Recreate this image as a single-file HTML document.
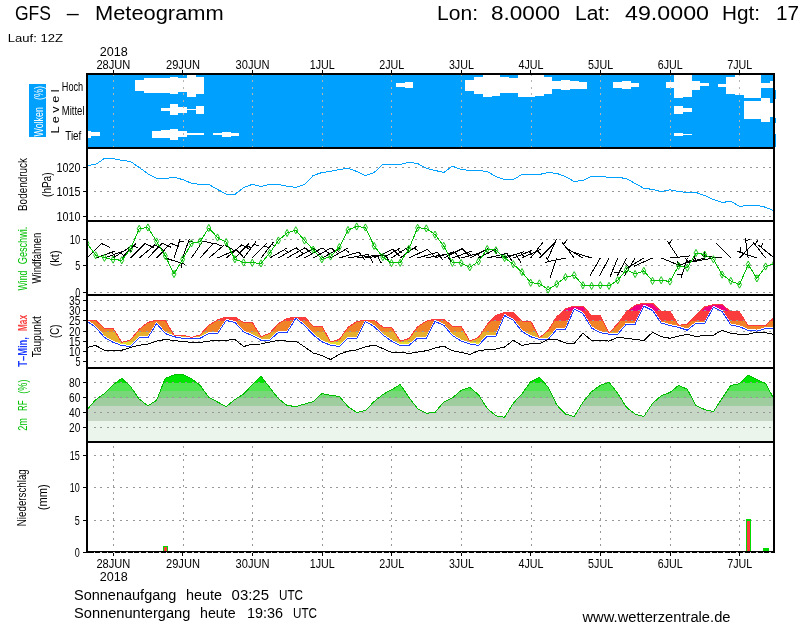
<!DOCTYPE html>
<html lang="de"><head><meta charset="utf-8"><title>GFS - Meteogramm</title>
<style>html,body{margin:0;padding:0;background:#fff}body{width:800px;height:625px;overflow:hidden}svg{display:block}text{font-family:"Liberation Sans", sans-serif;fill:#000}</style>
</head><body>
<svg width="800" height="625" viewBox="0 0 800 625">
<defs><filter id="noLcd" filterUnits="userSpaceOnUse" x="0" y="0" width="800" height="625"><feOffset dx="0" dy="0"/></filter></defs>
<rect x="0" y="0" width="800" height="625" fill="#fff"/>
<g filter="url(#noLcd)">
<text x="15.0" y="19.5" font-size="20" textLength="36.0" lengthAdjust="spacingAndGlyphs">GFS</text>
<text x="66.7" y="19.5" font-size="20" textLength="12.0" lengthAdjust="spacingAndGlyphs">&#8211;</text>
<text x="95.0" y="19.5" font-size="20" textLength="128.7" lengthAdjust="spacingAndGlyphs">Meteogramm</text>
<text x="437.0" y="19.5" font-size="20" textLength="41.0" lengthAdjust="spacingAndGlyphs">Lon:</text>
<text x="491.0" y="19.5" font-size="20" textLength="69.0" lengthAdjust="spacingAndGlyphs">8.0000</text>
<text x="575.0" y="19.5" font-size="20" textLength="35.0" lengthAdjust="spacingAndGlyphs">Lat:</text>
<text x="625.0" y="19.5" font-size="20" textLength="84.0" lengthAdjust="spacingAndGlyphs">49.0000</text>
<text x="722.0" y="19.5" font-size="20" textLength="38.0" lengthAdjust="spacingAndGlyphs">Hgt:</text>
<text x="776.0" y="19.5" font-size="20" textLength="23.0" lengthAdjust="spacingAndGlyphs">17</text>
<text x="7.8" y="41.7" font-size="10" textLength="55.2" lengthAdjust="spacingAndGlyphs">Lauf: 12Z</text>
<g shape-rendering="crispEdges">
<rect x="87" y="74" width="688" height="74" fill="#00a0ff"/>
<rect x="134.85" y="80.10" width="8.70" height="10.60" fill="#fff"/>
<rect x="143.55" y="78.00" width="8.70" height="15.00" fill="#fff"/>
<rect x="152.25" y="78.00" width="8.70" height="15.00" fill="#fff"/>
<rect x="160.95" y="78.00" width="8.70" height="15.00" fill="#fff"/>
<rect x="169.65" y="77.25" width="8.70" height="16.65" fill="#fff"/>
<rect x="178.35" y="77.60" width="8.70" height="14.40" fill="#fff"/>
<rect x="187.05" y="75.00" width="8.70" height="21.75" fill="#fff"/>
<rect x="195.75" y="77.00" width="8.70" height="16.90" fill="#fff"/>
<rect x="395.85" y="83.00" width="8.70" height="3.75" fill="#fff"/>
<rect x="404.55" y="82.00" width="8.70" height="6.00" fill="#fff"/>
<rect x="465.45" y="80.10" width="8.70" height="10.65" fill="#fff"/>
<rect x="474.15" y="77.00" width="8.70" height="16.90" fill="#fff"/>
<rect x="482.85" y="75.00" width="8.70" height="21.75" fill="#fff"/>
<rect x="491.55" y="75.00" width="8.70" height="20.75" fill="#fff"/>
<rect x="500.25" y="77.00" width="8.70" height="16.00" fill="#fff"/>
<rect x="508.95" y="77.60" width="8.70" height="15.40" fill="#fff"/>
<rect x="517.65" y="75.00" width="8.70" height="21.75" fill="#fff"/>
<rect x="526.35" y="75.00" width="8.70" height="21.75" fill="#fff"/>
<rect x="535.05" y="75.00" width="8.70" height="20.75" fill="#fff"/>
<rect x="543.75" y="77.00" width="8.70" height="17.25" fill="#fff"/>
<rect x="552.45" y="81.00" width="8.70" height="7.90" fill="#fff"/>
<rect x="561.15" y="79.75" width="8.70" height="10.35" fill="#fff"/>
<rect x="569.85" y="80.50" width="8.70" height="8.40" fill="#fff"/>
<rect x="578.55" y="82.00" width="8.70" height="6.90" fill="#fff"/>
<rect x="613.35" y="82.00" width="8.70" height="6.00" fill="#fff"/>
<rect x="622.05" y="80.75" width="8.70" height="8.15" fill="#fff"/>
<rect x="630.75" y="83.25" width="8.70" height="3.75" fill="#fff"/>
<rect x="665.55" y="82.25" width="8.70" height="5.75" fill="#fff"/>
<rect x="674.25" y="75.00" width="8.70" height="22.60" fill="#fff"/>
<rect x="682.95" y="75.00" width="8.70" height="21.75" fill="#fff"/>
<rect x="691.65" y="81.00" width="8.70" height="8.50" fill="#fff"/>
<rect x="700.35" y="83.25" width="8.70" height="3.15" fill="#fff"/>
<rect x="717.75" y="83.90" width="8.70" height="2.85" fill="#fff"/>
<rect x="726.45" y="77.00" width="8.70" height="16.90" fill="#fff"/>
<rect x="735.15" y="75.00" width="8.70" height="20.10" fill="#fff"/>
<rect x="743.85" y="75.00" width="8.70" height="23.00" fill="#fff"/>
<rect x="752.55" y="75.00" width="8.70" height="23.20" fill="#fff"/>
<rect x="761.25" y="82.60" width="8.70" height="5.60" fill="#fff"/>
<rect x="769.95" y="80.70" width="3.05" height="7.50" fill="#fff"/>
<rect x="160.95" y="108.25" width="8.70" height="2.25" fill="#fff"/>
<rect x="169.65" y="104.25" width="8.70" height="10.50" fill="#fff"/>
<rect x="178.35" y="107.00" width="8.70" height="5.60" fill="#fff"/>
<rect x="187.05" y="108.60" width="8.70" height="1.15" fill="#fff"/>
<rect x="195.75" y="106.00" width="8.70" height="7.90" fill="#fff"/>
<rect x="674.25" y="106.00" width="8.70" height="7.90" fill="#fff"/>
<rect x="682.95" y="108.25" width="8.70" height="3.75" fill="#fff"/>
<rect x="743.85" y="101.00" width="8.70" height="17.80" fill="#fff"/>
<rect x="752.55" y="100.50" width="8.70" height="18.30" fill="#fff"/>
<rect x="761.25" y="98.20" width="8.70" height="23.70" fill="#fff"/>
<rect x="769.95" y="102.60" width="3.05" height="14.30" fill="#fff"/>
<rect x="88.00" y="130.70" width="3.35" height="7.20" fill="#fff"/>
<rect x="91.35" y="132.20" width="8.70" height="3.70" fill="#fff"/>
<rect x="152.25" y="131.40" width="8.70" height="6.20" fill="#fff"/>
<rect x="160.95" y="130.10" width="8.70" height="7.50" fill="#fff"/>
<rect x="169.65" y="129.25" width="8.70" height="10.50" fill="#fff"/>
<rect x="178.35" y="131.40" width="8.70" height="5.85" fill="#fff"/>
<rect x="187.05" y="133.00" width="8.70" height="1.50" fill="#fff"/>
<rect x="195.75" y="133.00" width="8.70" height="1.50" fill="#fff"/>
<rect x="213.15" y="133.00" width="8.70" height="1.50" fill="#fff"/>
<rect x="221.85" y="132.00" width="8.70" height="4.75" fill="#fff"/>
<rect x="230.55" y="133.00" width="8.70" height="2.50" fill="#fff"/>
<rect x="674.25" y="133.00" width="8.70" height="2.75" fill="#fff"/>
<rect x="682.95" y="133.90" width="8.70" height="1.00" fill="#fff"/>
<rect x="775" y="89.5" width="1" height="9.5" fill="#00a0ff"/>
<rect x="775" y="117.5" width="1" height="5.0" fill="#00a0ff"/>
<rect x="775" y="134.0" width="1" height="13.0" fill="#00a0ff"/>
</g>
<g shape-rendering="crispEdges" fill="none">
<line x1="113.4" y1="73.6" x2="113.4" y2="147" stroke="#b4b4b4" stroke-dasharray="2 4.56" stroke-width="1"/>
<line x1="183.0" y1="73.6" x2="183.0" y2="147" stroke="#b4b4b4" stroke-dasharray="2 4.56" stroke-width="1"/>
<line x1="252.6" y1="73.6" x2="252.6" y2="147" stroke="#b4b4b4" stroke-dasharray="2 4.56" stroke-width="1"/>
<line x1="322.2" y1="73.6" x2="322.2" y2="147" stroke="#b4b4b4" stroke-dasharray="2 4.56" stroke-width="1"/>
<line x1="391.8" y1="73.6" x2="391.8" y2="147" stroke="#b4b4b4" stroke-dasharray="2 4.56" stroke-width="1"/>
<line x1="461.4" y1="73.6" x2="461.4" y2="147" stroke="#b4b4b4" stroke-dasharray="2 4.56" stroke-width="1"/>
<line x1="531.0" y1="73.6" x2="531.0" y2="147" stroke="#b4b4b4" stroke-dasharray="2 4.56" stroke-width="1"/>
<line x1="600.6" y1="73.6" x2="600.6" y2="147" stroke="#b4b4b4" stroke-dasharray="2 4.56" stroke-width="1"/>
<line x1="670.2" y1="73.6" x2="670.2" y2="147" stroke="#b4b4b4" stroke-dasharray="2 4.56" stroke-width="1"/>
<line x1="739.8" y1="73.6" x2="739.8" y2="147" stroke="#b4b4b4" stroke-dasharray="2 4.56" stroke-width="1"/>
</g>
<defs>
<clipPath id="crh"><polygon points="87.00,442.00 87.00,409.75 95.70,399.75 104.40,393.50 113.10,384.75 121.80,378.25 130.50,386.60 139.20,399.10 147.90,405.75 156.60,400.40 165.30,378.25 174.00,375.00 182.70,374.50 191.40,378.50 200.10,385.40 208.80,397.25 217.50,402.00 226.20,406.60 234.90,399.50 243.60,394.10 252.30,384.75 261.00,376.25 269.70,387.50 278.40,398.75 287.10,405.40 295.80,406.60 304.50,404.10 313.20,401.60 321.90,393.50 330.60,395.40 339.30,396.40 348.00,406.60 356.70,412.50 365.40,410.40 374.10,401.60 382.80,394.50 391.50,389.75 400.20,384.50 408.90,397.25 417.60,408.75 426.30,413.25 435.00,412.50 443.70,402.00 452.40,397.90 461.10,390.40 469.80,387.25 478.50,394.75 487.20,408.50 495.90,415.75 504.60,417.25 513.30,403.25 522.00,393.75 530.70,381.60 539.40,377.25 548.10,387.25 556.80,405.00 565.50,414.10 574.20,416.60 582.90,402.25 591.60,391.60 600.30,385.40 609.00,382.25 617.70,393.25 626.40,407.25 635.10,414.10 643.80,416.60 652.50,403.50 661.20,395.75 669.90,392.50 678.60,385.40 687.30,389.30 696.00,405.60 704.70,409.60 713.40,411.60 722.10,398.50 730.80,385.40 739.50,383.75 748.20,375.00 756.90,379.50 765.60,383.50 774.30,399.75 774.00,442.00"/></clipPath>
<clipPath id="ct"><polygon points="87.00,320.25 95.70,320.25 104.40,328.25 113.10,328.25 121.80,342.40 130.50,339.90 139.20,329.25 147.90,322.40 156.60,320.25 165.30,320.25 174.00,335.25 182.70,335.25 191.40,337.40 200.10,334.90 208.80,325.25 217.50,319.90 226.20,317.00 234.90,317.00 243.60,322.40 252.30,322.40 261.00,336.75 269.70,333.25 278.40,323.60 287.10,318.60 295.80,317.00 304.50,317.00 313.20,326.10 321.90,326.10 330.60,342.00 339.30,339.50 348.00,327.40 356.70,321.50 365.40,320.25 374.10,320.25 382.80,327.00 391.50,327.00 400.20,341.10 408.90,338.60 417.60,326.75 426.30,321.10 435.00,319.25 443.70,319.25 452.40,326.10 461.10,326.10 469.80,341.10 478.50,337.40 487.20,324.50 495.90,315.50 504.60,312.40 513.30,312.40 522.00,321.10 530.70,321.10 539.40,337.75 548.10,330.50 556.80,316.75 565.50,308.90 574.20,306.10 582.90,306.10 591.60,315.50 600.30,315.50 609.00,332.75 617.70,324.00 626.40,311.75 635.10,305.25 643.80,303.25 652.50,303.25 661.20,311.10 669.90,311.10 678.60,325.25 687.30,324.25 696.00,315.50 704.70,306.90 713.40,304.50 722.10,304.50 730.80,311.90 739.50,311.90 748.20,325.75 756.90,325.75 765.60,325.75 774.30,316.75 774.30,328.60 765.60,328.60 756.90,331.10 748.20,330.50 739.50,326.75 730.80,324.90 722.10,311.50 713.40,307.40 704.70,323.25 696.00,323.25 687.30,330.25 678.60,327.40 669.90,325.50 661.20,323.00 652.50,310.50 643.80,306.10 635.10,324.25 626.40,324.25 617.70,334.25 609.00,334.25 600.30,332.75 591.60,328.00 582.90,313.60 574.20,309.25 565.50,329.25 556.80,329.25 548.10,339.50 539.40,339.50 530.70,336.75 522.00,331.50 513.30,320.25 504.60,315.50 495.90,336.10 487.20,336.10 478.50,345.50 469.80,344.00 461.10,341.10 452.40,335.50 443.70,325.25 435.00,321.50 426.30,338.25 417.60,338.25 408.90,345.50 400.20,345.50 391.50,341.10 382.80,334.90 374.10,326.50 365.40,321.50 356.70,338.25 348.00,338.25 339.30,346.50 330.60,345.25 321.90,341.75 313.20,334.90 304.50,325.50 295.80,318.25 287.10,332.40 278.40,332.40 269.70,340.25 261.00,340.25 252.30,335.50 243.60,332.00 234.90,322.40 226.20,320.50 217.50,333.60 208.80,333.60 200.10,338.25 191.40,338.25 182.70,338.25 174.00,336.75 165.30,333.60 156.60,323.60 147.90,337.75 139.20,337.75 130.50,346.50 121.80,345.50 113.10,342.40 104.40,337.40 95.70,327.40 87.00,321.10"/></clipPath>
<clipPath id="cw"><rect x="88" y="222" width="685" height="72"/></clipPath>
<clipPath id="call"><rect x="88" y="74" width="685" height="478"/></clipPath>
</defs>
<g shape-rendering="crispEdges">
<g clip-path="url(#crh)">
<rect x="87" y="368.00" width="688" height="14.90" fill="#00e600"/>
<rect x="87" y="382.90" width="688" height="8.10" fill="#50e650"/>
<rect x="87" y="391.00" width="688" height="7.25" fill="#78d778"/>
<rect x="87" y="398.25" width="688" height="7.50" fill="#a0cda0"/>
<rect x="87" y="405.75" width="688" height="15.00" fill="#c6d7c6"/>
<rect x="87" y="420.75" width="688" height="21.25" fill="#ebf5eb"/>
</g>
<g clip-path="url(#ct)">
<rect x="87" y="295.00" width="688" height="15.80" fill="#f00082"/>
<rect x="87" y="310.80" width="688" height="10.20" fill="#fa3c3c"/>
<rect x="87" y="321.00" width="688" height="10.80" fill="#f08228"/>
<rect x="87" y="331.80" width="688" height="10.20" fill="#e6af2d"/>
<rect x="87" y="342.00" width="688" height="10.00" fill="#e6dc32"/>
<rect x="87" y="352.00" width="688" height="16.00" fill="#a0e632"/>
</g>
</g>
<g shape-rendering="crispEdges" fill="none" stroke="#989898" stroke-width="1" stroke-dasharray="2 4.56">
<line x1="93.5" y1="167.5" x2="773" y2="167.5"/>
<line x1="93.5" y1="191.5" x2="773" y2="191.5"/>
<line x1="93.5" y1="216.5" x2="773" y2="216.5"/>
<line x1="93.5" y1="239.5" x2="773" y2="239.5"/>
<line x1="93.5" y1="265.5" x2="773" y2="265.5"/>
<line x1="93.5" y1="292.5" x2="773" y2="292.5"/>
<line x1="93.5" y1="300.5" x2="773" y2="300.5"/>
<line x1="93.5" y1="310.5" x2="773" y2="310.5"/>
<line x1="93.5" y1="320.5" x2="773" y2="320.5"/>
<line x1="93.5" y1="331.5" x2="773" y2="331.5"/>
<line x1="93.5" y1="341.5" x2="773" y2="341.5"/>
<line x1="93.5" y1="351.5" x2="773" y2="351.5"/>
<line x1="93.5" y1="361.5" x2="773" y2="361.5"/>
<line x1="93.5" y1="382.5" x2="773" y2="382.5"/>
<line x1="93.5" y1="397.5" x2="773" y2="397.5"/>
<line x1="93.5" y1="412.5" x2="773" y2="412.5"/>
<line x1="93.5" y1="427.5" x2="773" y2="427.5"/>
<line x1="93.5" y1="455.5" x2="773" y2="455.5"/>
<line x1="93.5" y1="487.5" x2="773" y2="487.5"/>
<line x1="93.5" y1="520.5" x2="773" y2="520.5"/>
</g>
<g shape-rendering="crispEdges" fill="none" stroke="#989898" stroke-width="1" stroke-dasharray="2 4.56">
<line x1="113.4" y1="446" x2="113.4" y2="551"/>
<line x1="183.0" y1="446" x2="183.0" y2="551"/>
<line x1="252.6" y1="446" x2="252.6" y2="551"/>
<line x1="322.2" y1="446" x2="322.2" y2="551"/>
<line x1="391.8" y1="446" x2="391.8" y2="551"/>
<line x1="461.4" y1="446" x2="461.4" y2="551"/>
<line x1="531.0" y1="446" x2="531.0" y2="551"/>
<line x1="600.6" y1="446" x2="600.6" y2="551"/>
<line x1="670.2" y1="446" x2="670.2" y2="551"/>
<line x1="739.8" y1="446" x2="739.8" y2="551"/>
</g>
<g shape-rendering="crispEdges" fill="none" stroke-width="1" stroke-linejoin="round" clip-path="url(#call)">
<polyline points="87.00,165.50 95.70,164.40 104.40,158.50 113.10,158.50 121.80,160.40 130.50,161.50 139.20,167.50 147.90,173.75 156.60,178.50 165.30,178.50 174.00,177.25 182.70,179.60 191.40,183.25 200.10,184.40 208.80,184.40 217.50,189.40 226.20,194.10 234.90,194.40 243.60,187.50 252.30,184.40 261.00,186.40 269.70,184.40 278.40,184.40 287.10,186.25 295.80,187.40 304.50,184.50 313.20,175.50 321.90,172.50 330.60,171.40 339.30,169.50 348.00,168.40 356.70,171.40 365.40,175.50 374.10,172.50 382.80,164.50 391.50,164.50 400.20,164.50 408.90,162.25 417.60,163.50 426.30,168.25 435.00,170.40 443.70,172.50 452.40,166.25 461.10,169.40 469.80,170.50 478.50,170.50 487.20,171.50 495.90,176.50 504.60,179.50 513.30,179.50 522.00,174.50 530.70,174.50 539.40,174.50 548.10,172.40 556.80,173.40 565.50,176.60 574.20,181.50 582.90,180.40 591.60,176.40 600.30,176.40 609.00,177.40 617.70,177.40 626.40,178.50 635.10,183.50 643.80,188.25 652.50,189.40 661.20,191.60 669.90,189.80 678.60,191.40 687.30,192.50 696.00,192.50 704.70,195.50 713.40,199.50 722.10,202.50 730.80,201.25 739.50,206.40 748.20,205.40 756.90,205.40 765.60,207.25 774.30,211.00" stroke="#00a0ff" stroke-width="1"/>
<polyline points="87.00,409.75 95.70,399.75 104.40,393.50 113.10,384.75 121.80,378.25 130.50,386.60 139.20,399.10 147.90,405.75 156.60,400.40 165.30,378.25 174.00,375.00 182.70,374.50 191.40,378.50 200.10,385.40 208.80,397.25 217.50,402.00 226.20,406.60 234.90,399.50 243.60,394.10 252.30,384.75 261.00,376.25 269.70,387.50 278.40,398.75 287.10,405.40 295.80,406.60 304.50,404.10 313.20,401.60 321.90,393.50 330.60,395.40 339.30,396.40 348.00,406.60 356.70,412.50 365.40,410.40 374.10,401.60 382.80,394.50 391.50,389.75 400.20,384.50 408.90,397.25 417.60,408.75 426.30,413.25 435.00,412.50 443.70,402.00 452.40,397.90 461.10,390.40 469.80,387.25 478.50,394.75 487.20,408.50 495.90,415.75 504.60,417.25 513.30,403.25 522.00,393.75 530.70,381.60 539.40,377.25 548.10,387.25 556.80,405.00 565.50,414.10 574.20,416.60 582.90,402.25 591.60,391.60 600.30,385.40 609.00,382.25 617.70,393.25 626.40,407.25 635.10,414.10 643.80,416.60 652.50,403.50 661.20,395.75 669.90,392.50 678.60,385.40 687.30,389.30 696.00,405.60 704.70,409.60 713.40,411.60 722.10,398.50 730.80,385.40 739.50,383.75 748.20,375.00 756.90,379.50 765.60,383.50 774.30,399.75" stroke="#00be00" stroke-width="1"/>
<polyline points="87.00,320.10 95.70,326.40 104.40,336.40 113.10,341.40 121.80,344.50 130.50,345.50 139.20,336.75 147.90,336.75 156.60,322.60 165.30,332.60 174.00,335.75 182.70,337.25 191.40,337.25 200.10,337.25 208.80,332.60 217.50,332.60 226.20,319.50 234.90,321.40 243.60,331.00 252.30,334.50 261.00,339.25 269.70,339.25 278.40,331.40 287.10,331.40 295.80,317.25 304.50,324.50 313.20,333.90 321.90,340.75 330.60,344.25 339.30,345.50 348.00,337.25 356.70,337.25 365.40,320.50 374.10,325.50 382.80,333.90 391.50,340.10 400.20,344.50 408.90,344.50 417.60,337.25 426.30,337.25 435.00,320.50 443.70,324.25 452.40,334.50 461.10,340.10 469.80,343.00 478.50,344.50 487.20,335.10 495.90,335.10 504.60,314.50 513.30,319.25 522.00,330.50 530.70,335.75 539.40,338.50 548.10,338.50 556.80,328.25 565.50,328.25 574.20,308.25 582.90,312.60 591.60,327.00 600.30,331.75 609.00,333.25 617.70,333.25 626.40,323.25 635.10,323.25 643.80,305.10 652.50,309.50 661.20,322.00 669.90,324.50 678.60,326.40 687.30,329.25 696.00,322.25 704.70,322.25 713.40,306.40 722.10,310.50 730.80,323.90 739.50,325.75 748.20,329.50 756.90,330.10 765.60,327.60 774.30,327.60" stroke="#fff" stroke-width="1"/>
<polyline points="87.00,320.25 95.70,320.25 104.40,328.25 113.10,328.25 121.80,342.40 130.50,339.90 139.20,329.25 147.90,322.40 156.60,320.25 165.30,320.25 174.00,335.25 182.70,335.25 191.40,337.40 200.10,334.90 208.80,325.25 217.50,319.90 226.20,317.00 234.90,317.00 243.60,322.40 252.30,322.40 261.00,336.75 269.70,333.25 278.40,323.60 287.10,318.60 295.80,317.00 304.50,317.00 313.20,326.10 321.90,326.10 330.60,342.00 339.30,339.50 348.00,327.40 356.70,321.50 365.40,320.25 374.10,320.25 382.80,327.00 391.50,327.00 400.20,341.10 408.90,338.60 417.60,326.75 426.30,321.10 435.00,319.25 443.70,319.25 452.40,326.10 461.10,326.10 469.80,341.10 478.50,337.40 487.20,324.50 495.90,315.50 504.60,312.40 513.30,312.40 522.00,321.10 530.70,321.10 539.40,337.75 548.10,330.50 556.80,316.75 565.50,308.90 574.20,306.10 582.90,306.10 591.60,315.50 600.30,315.50 609.00,332.75 617.70,324.00 626.40,311.75 635.10,305.25 643.80,303.25 652.50,303.25 661.20,311.10 669.90,311.10 678.60,325.25 687.30,324.25 696.00,315.50 704.70,306.90 713.40,304.50 722.10,304.50 730.80,311.90 739.50,311.90 748.20,325.75 756.90,325.75 765.60,325.75 774.30,316.75" stroke="#fa3c3c" stroke-width="1"/>
<polyline points="87.00,321.10 95.70,327.40 104.40,337.40 113.10,342.40 121.80,345.50 130.50,346.50 139.20,337.75 147.90,337.75 156.60,323.60 165.30,333.60 174.00,336.75 182.70,338.25 191.40,338.25 200.10,338.25 208.80,333.60 217.50,333.60 226.20,320.50 234.90,322.40 243.60,332.00 252.30,335.50 261.00,340.25 269.70,340.25 278.40,332.40 287.10,332.40 295.80,318.25 304.50,325.50 313.20,334.90 321.90,341.75 330.60,345.25 339.30,346.50 348.00,338.25 356.70,338.25 365.40,321.50 374.10,326.50 382.80,334.90 391.50,341.10 400.20,345.50 408.90,345.50 417.60,338.25 426.30,338.25 435.00,321.50 443.70,325.25 452.40,335.50 461.10,341.10 469.80,344.00 478.50,345.50 487.20,336.10 495.90,336.10 504.60,315.50 513.30,320.25 522.00,331.50 530.70,336.75 539.40,339.50 548.10,339.50 556.80,329.25 565.50,329.25 574.20,309.25 582.90,313.60 591.60,328.00 600.30,332.75 609.00,334.25 617.70,334.25 626.40,324.25 635.10,324.25 643.80,306.10 652.50,310.50 661.20,323.00 669.90,325.50 678.60,327.40 687.30,330.25 696.00,323.25 704.70,323.25 713.40,307.40 722.10,311.50 730.80,324.90 739.50,326.75 748.20,330.50 756.90,331.10 765.60,328.60 774.30,328.60" stroke="#1e3cff" stroke-width="1"/>
<polyline points="87.00,347.40 95.70,345.50 104.40,350.25 113.10,350.50 121.80,350.25 130.50,347.40 139.20,345.25 147.90,344.00 156.60,341.10 165.30,339.50 174.00,340.50 182.70,341.50 191.40,342.40 200.10,342.40 208.80,341.10 217.50,340.50 226.20,340.25 234.90,339.50 243.60,346.50 252.30,344.25 261.00,344.00 269.70,342.00 278.40,340.25 287.10,341.10 295.80,341.10 304.50,346.75 313.20,353.00 321.90,355.50 330.60,359.50 339.30,354.25 348.00,351.10 356.70,349.90 365.40,347.00 374.10,344.90 382.80,348.60 391.50,352.40 400.20,352.00 408.90,353.60 417.60,352.00 426.30,350.75 435.00,348.00 443.70,346.10 452.40,350.75 461.10,352.40 469.80,354.50 478.50,350.75 487.20,349.50 495.90,349.00 504.60,347.00 513.30,340.25 522.00,345.50 530.70,343.60 539.40,343.60 548.10,339.50 556.80,339.50 565.50,343.00 574.20,343.40 582.90,333.25 591.60,340.50 600.30,340.25 609.00,341.10 617.70,337.40 626.40,338.25 635.10,339.50 643.80,340.50 652.50,332.40 661.20,336.75 669.90,338.25 678.60,336.10 687.30,334.25 696.00,336.50 704.70,335.50 713.40,335.25 722.10,330.25 730.80,333.25 739.50,334.25 748.20,334.25 756.90,332.00 765.60,332.75 774.30,334.50" stroke="#000" stroke-width="1"/>
</g>
<g shape-rendering="crispEdges" fill="none" stroke="#000" stroke-width="1" clip-path="url(#cw)">
<path d="M87.0 258.0L101.5 243.5M101.5 243.5L110.1 247.5"/>
<path d="M95.7 258.0L115.0 251.0M111.7 252.2L114.9 256.0"/>
<path d="M104.4 258.0L123.7 251.0M120.4 252.2L123.6 256.0"/>
<path d="M113.1 258.0L130.3 246.8M127.4 248.7L131.4 251.8"/>
<path d="M121.8 258.0L136.0 243.3M133.6 245.8L138.2 247.8"/>
<path d="M130.5 258.0L145.0 243.5M145.0 243.5L153.6 247.5"/>
<path d="M139.2 258.0L154.9 244.8M154.9 244.8L163.1 249.6"/>
<path d="M147.9 258.0L162.1 243.3M162.1 243.3L170.8 247.1"/>
<path d="M156.6 258.0L170.8 243.3M170.8 243.3L179.5 247.1"/>
<path d="M165.3 258.0L184.8 264.3M181.5 263.3L181.6 268.3"/>
<path d="M174.0 258.0L180.3 238.5M179.3 241.8L184.3 241.7"/>
<path d="M182.7 258.0L189.4 238.6M188.2 241.9L193.2 241.8"/>
<path d="M191.4 258.0L202.9 241.0M202.9 241.0L212.1 243.3"/>
<path d="M200.1 258.0L213.8 242.8M213.8 242.8L222.6 246.3"/>
<path d="M208.8 258.0L224.5 244.8M224.5 244.8L232.7 249.6"/>
<path d="M217.5 258.0L236.2 249.7M236.2 249.7L242.8 256.5"/>
<path d="M226.2 258.0L241.9 244.8M241.9 244.8L250.1 249.6"/>
<path d="M234.9 258.0L249.1 243.3M246.7 245.8L251.3 247.8"/>
<path d="M243.6 258.0L255.9 241.6M253.8 244.4L258.6 245.9"/>
<path d="M252.3 258.0L266.5 243.3M264.1 245.8L268.7 247.8"/>
<path d="M261.0 258.0L273.6 241.8M271.5 244.6L276.2 246.1"/>
<path d="M269.7 258.0L287.5 247.8M284.4 249.5L288.3 252.7"/>
<path d="M278.4 258.0L296.2 247.8M296.2 247.8L303.4 253.9"/>
<path d="M287.1 258.0L304.9 247.8M304.9 247.8L312.1 253.9"/>
<path d="M295.8 258.0L313.9 248.4M313.9 248.4L321.0 254.7"/>
<path d="M304.5 258.0L322.3 247.8M322.3 247.8L329.5 253.9"/>
<path d="M313.2 258.0L331.0 247.8M331.0 247.8L338.2 253.9"/>
<path d="M321.9 258.0L340.0 248.4M336.9 250.0L340.6 253.4"/>
<path d="M330.6 258.0L348.4 247.8M345.3 249.5L349.2 252.7"/>
<path d="M339.3 258.0L358.9 252.0M358.9 252.0L364.6 259.6"/>
<path d="M348.0 258.0L368.2 254.4M368.2 254.4L372.9 262.7"/>
<path d="M356.7 258.0L377.0 255.1M377.0 255.1L381.5 263.5"/>
<path d="M365.4 258.0L385.7 255.1M385.7 255.1L390.2 263.5"/>
<path d="M374.1 258.0L392.7 249.3M392.7 249.3L399.4 256.1"/>
<path d="M382.8 258.0L400.6 247.8M397.5 249.5L401.4 252.7"/>
<path d="M391.5 258.0L408.7 246.8M405.8 248.7L409.8 251.8"/>
<path d="M400.2 258.0L416.8 246.0M414.0 248.0L418.1 250.8"/>
<path d="M408.9 258.0L427.5 249.3M427.5 249.3L434.2 256.1"/>
<path d="M417.6 258.0L437.3 252.3M437.3 252.3L442.9 260.0"/>
<path d="M426.3 258.0L446.4 254.1M446.4 254.1L451.3 262.2"/>
<path d="M435.0 258.0L454.5 251.7M454.5 251.7L460.3 259.2"/>
<path d="M443.7 258.0L462.0 248.7M462.0 248.7L468.9 255.2"/>
<path d="M452.4 258.0L471.7 251.0M468.4 252.2L471.6 256.0"/>
<path d="M461.1 258.0L480.9 252.7M477.5 253.6L480.4 257.7"/>
<path d="M469.8 258.0L488.1 248.7M484.9 250.3L488.6 253.7"/>
<path d="M478.5 258.0L496.8 248.7M493.6 250.3L497.3 253.7"/>
<path d="M487.2 258.0L507.2 253.4M507.2 253.4L512.3 261.4"/>
<path d="M495.9 258.0L516.1 254.4M516.1 254.4L520.8 262.7"/>
<path d="M504.6 258.0L524.1 251.7M520.8 252.7L523.8 256.7"/>
<path d="M513.3 258.0L532.3 250.3M529.1 251.6L532.4 255.3"/>
<path d="M522.0 258.0L540.6 249.3M537.4 250.8L540.9 254.4"/>
<path d="M530.7 258.0L543.3 241.8"/>
<path d="M539.4 258.0L553.9 243.5"/>
<path d="M548.1 258.0L556.4 239.3"/>
<path d="M556.8 258.0L550.1 277.4"/>
<path d="M565.5 258.0L545.4 262.3M548.9 261.5L546.2 257.3"/>
<path d="M574.2 258.0L561.6 241.8M563.7 244.6L566.4 240.4"/>
<path d="M582.9 258.0L565.3 247.4"/>
<path d="M591.6 258.0L572.1 251.7"/>
<path d="M600.3 258.0L590.0 275.8"/>
<path d="M609.0 258.0L599.4 276.1"/>
<path d="M617.7 258.0L610.0 277.0"/>
<path d="M626.4 258.0L617.1 276.3M618.7 273.1L613.7 272.5"/>
<path d="M635.1 258.0L624.5 275.6M626.3 272.6L621.4 271.6"/>
<path d="M643.8 258.0L626.2 268.6M629.2 266.8L625.3 263.6"/>
<path d="M652.5 258.0L633.8 266.3"/>
<path d="M661.2 258.0L680.2 265.7"/>
<path d="M669.9 258.0L690.3 255.9"/>
<path d="M678.6 258.0L667.1 241.0M669.1 243.9L672.0 239.9"/>
<path d="M687.3 258.0L681.3 277.6M682.3 274.3L677.3 274.5"/>
<path d="M696.0 258.0L677.4 266.7M680.6 265.2L677.1 261.6"/>
<path d="M704.7 258.0L684.9 263.3M688.3 262.4L685.4 258.3"/>
<path d="M713.4 258.0L693.2 261.6M696.7 261.0L694.2 256.6"/>
<path d="M722.1 258.0L701.7 255.9M705.2 256.2L704.0 251.4"/>
<path d="M730.8 258.0L716.3 243.5"/>
<path d="M739.5 258.0L753.7 243.3"/>
<path d="M748.2 258.0L745.3 237.7M745.8 241.2L750.2 238.8"/>
<path d="M756.9 258.0L737.5 251.3M740.8 252.5L740.7 247.5"/>
<path d="M765.6 258.0L753.0 241.8M755.1 244.6L757.8 240.4"/>
<path d="M774.3 258.0L758.4 245.1M761.1 247.3L762.7 242.6"/>
</g>
<g shape-rendering="crispEdges" fill="none" stroke="#00be00" stroke-width="1" clip-path="url(#cw)">
<polyline points="87.00,243.40 95.70,255.25 104.40,257.75 113.10,259.60 121.80,260.25 130.50,249.00 139.20,228.75 147.90,227.50 156.60,241.50 165.30,255.90 174.00,274.00 182.70,259.30 191.40,243.40 200.10,241.50 208.80,228.00 217.50,237.50 226.20,242.10 234.90,259.25 243.60,262.50 252.30,262.75 261.00,263.40 269.70,253.00 278.40,240.50 287.10,233.00 295.80,230.25 304.50,240.50 313.20,249.60 321.90,259.25 330.60,256.50 339.30,247.10 348.00,230.00 356.70,226.50 365.40,227.50 374.10,245.90 382.80,257.10 391.50,263.00 400.20,262.75 408.90,248.75 417.60,227.75 426.30,228.40 435.00,234.60 443.70,245.90 452.40,262.75 461.10,263.00 469.80,267.30 478.50,261.50 487.20,249.00 495.90,250.25 504.60,258.00 513.30,264.25 522.00,272.10 530.70,282.75 539.40,283.40 548.10,289.60 556.80,284.00 565.50,277.10 574.20,275.25 582.90,285.25 591.60,285.90 600.30,285.25 609.00,285.90 617.70,280.25 626.40,269.60 635.10,274.00 643.80,270.90 652.50,280.90 661.20,280.25 669.90,281.50 678.60,265.90 687.30,267.75 696.00,253.00 704.70,254.60 713.40,259.25 722.10,274.60 730.80,280.90 739.50,284.60 748.20,264.60 756.90,278.40 765.60,266.50 774.30,263.40" stroke-width="1"/>
<path d="M87.0 239.8L89.0 243.4L87.0 247.0L85.0 243.4ZM95.7 251.7L97.7 255.2L95.7 258.9L93.7 255.2ZM104.4 254.2L106.4 257.8L104.4 261.4L102.4 257.8ZM113.1 256.0L115.1 259.6L113.1 263.2L111.1 259.6ZM121.8 256.6L123.8 260.2L121.8 263.9L119.8 260.2ZM130.5 245.4L132.5 249.0L130.5 252.6L128.5 249.0ZM139.2 225.2L141.2 228.8L139.2 232.3L137.2 228.8ZM147.9 223.9L149.9 227.5L147.9 231.1L145.9 227.5ZM156.6 237.9L158.6 241.5L156.6 245.1L154.6 241.5ZM165.3 252.3L167.3 255.9L165.3 259.5L163.3 255.9ZM174.0 270.4L176.0 274.0L174.0 277.6L172.0 274.0ZM182.7 255.7L184.7 259.3L182.7 262.9L180.7 259.3ZM191.4 239.8L193.4 243.4L191.4 247.0L189.4 243.4ZM200.1 237.9L202.1 241.5L200.1 245.1L198.1 241.5ZM208.8 224.4L210.8 228.0L208.8 231.6L206.8 228.0ZM217.5 233.9L219.5 237.5L217.5 241.1L215.5 237.5ZM226.2 238.5L228.2 242.1L226.2 245.7L224.2 242.1ZM234.9 255.7L236.9 259.2L234.9 262.9L232.9 259.2ZM243.6 258.9L245.6 262.5L243.6 266.1L241.6 262.5ZM252.3 259.1L254.3 262.8L252.3 266.4L250.3 262.8ZM261.0 259.8L263.0 263.4L261.0 267.0L259.0 263.4ZM269.7 249.4L271.7 253.0L269.7 256.6L267.7 253.0ZM278.4 236.9L280.4 240.5L278.4 244.1L276.4 240.5ZM287.1 229.4L289.1 233.0L287.1 236.6L285.1 233.0ZM295.8 226.7L297.8 230.2L295.8 233.8L293.8 230.2ZM304.5 236.9L306.5 240.5L304.5 244.1L302.5 240.5ZM313.2 246.0L315.2 249.6L313.2 253.2L311.2 249.6ZM321.9 255.7L323.9 259.2L321.9 262.9L319.9 259.2ZM330.6 252.9L332.6 256.5L330.6 260.1L328.6 256.5ZM339.3 243.5L341.3 247.1L339.3 250.7L337.3 247.1ZM348.0 226.4L350.0 230.0L348.0 233.6L346.0 230.0ZM356.7 222.9L358.7 226.5L356.7 230.1L354.7 226.5ZM365.4 223.9L367.4 227.5L365.4 231.1L363.4 227.5ZM374.1 242.3L376.1 245.9L374.1 249.5L372.1 245.9ZM382.8 253.5L384.8 257.1L382.8 260.7L380.8 257.1ZM391.5 259.4L393.5 263.0L391.5 266.6L389.5 263.0ZM400.2 259.1L402.2 262.8L400.2 266.4L398.2 262.8ZM408.9 245.2L410.9 248.8L408.9 252.3L406.9 248.8ZM417.6 224.2L419.6 227.8L417.6 231.3L415.6 227.8ZM426.3 224.8L428.3 228.4L426.3 232.0L424.3 228.4ZM435.0 231.0L437.0 234.6L435.0 238.2L433.0 234.6ZM443.7 242.3L445.7 245.9L443.7 249.5L441.7 245.9ZM452.4 259.1L454.4 262.8L452.4 266.4L450.4 262.8ZM461.1 259.4L463.1 263.0L461.1 266.6L459.1 263.0ZM469.8 263.7L471.8 267.3L469.8 270.9L467.8 267.3ZM478.5 257.9L480.5 261.5L478.5 265.1L476.5 261.5ZM487.2 245.4L489.2 249.0L487.2 252.6L485.2 249.0ZM495.9 246.7L497.9 250.2L495.9 253.8L493.9 250.2ZM504.6 254.4L506.6 258.0L504.6 261.6L502.6 258.0ZM513.3 260.6L515.3 264.2L513.3 267.9L511.3 264.2ZM522.0 268.5L524.0 272.1L522.0 275.7L520.0 272.1ZM530.7 279.1L532.7 282.8L530.7 286.4L528.7 282.8ZM539.4 279.8L541.4 283.4L539.4 287.0L537.4 283.4ZM548.1 286.0L550.1 289.6L548.1 293.2L546.1 289.6ZM556.8 280.4L558.8 284.0L556.8 287.6L554.8 284.0ZM565.5 273.5L567.5 277.1L565.5 280.7L563.5 277.1ZM574.2 271.6L576.2 275.2L574.2 278.9L572.2 275.2ZM582.9 281.6L584.9 285.2L582.9 288.9L580.9 285.2ZM591.6 282.3L593.6 285.9L591.6 289.5L589.6 285.9ZM600.3 281.6L602.3 285.2L600.3 288.9L598.3 285.2ZM609.0 282.3L611.0 285.9L609.0 289.5L607.0 285.9ZM617.7 276.6L619.7 280.2L617.7 283.9L615.7 280.2ZM626.4 266.0L628.4 269.6L626.4 273.2L624.4 269.6ZM635.1 270.4L637.1 274.0L635.1 277.6L633.1 274.0ZM643.8 267.3L645.8 270.9L643.8 274.5L641.8 270.9ZM652.5 277.3L654.5 280.9L652.5 284.5L650.5 280.9ZM661.2 276.6L663.2 280.2L661.2 283.9L659.2 280.2ZM669.9 277.9L671.9 281.5L669.9 285.1L667.9 281.5ZM678.6 262.3L680.6 265.9L678.6 269.5L676.6 265.9ZM687.3 264.1L689.3 267.8L687.3 271.4L685.3 267.8ZM696.0 249.4L698.0 253.0L696.0 256.6L694.0 253.0ZM704.7 251.0L706.7 254.6L704.7 258.2L702.7 254.6ZM713.4 255.7L715.4 259.2L713.4 262.9L711.4 259.2ZM722.1 271.0L724.1 274.6L722.1 278.2L720.1 274.6ZM730.8 277.3L732.8 280.9L730.8 284.5L728.8 280.9ZM739.5 281.0L741.5 284.6L739.5 288.2L737.5 284.6ZM748.2 261.0L750.2 264.6L748.2 268.2L746.2 264.6ZM756.9 274.8L758.9 278.4L756.9 282.0L754.9 278.4ZM765.6 262.9L767.6 266.5L765.6 270.1L763.6 266.5ZM774.3 259.8L776.3 263.4L774.3 267.0L772.3 263.4Z" shape-rendering="geometricPrecision" stroke-width="0.9"/>
</g>
<g shape-rendering="crispEdges">
<rect x="163" y="546" width="5" height="6" fill="#00dc00"/><rect x="164" y="547" width="3" height="6" fill="#fa3c3c"/>
<rect x="746" y="519" width="5" height="33" fill="#00dc00"/><rect x="747" y="520.5" width="3" height="32" fill="#fa3c3c"/>
<rect x="763" y="548" width="6" height="4" fill="#00dc00"/>
</g>
<g shape-rendering="crispEdges" fill="#000">
<rect x="86" y="73" width="2" height="480"/>
<rect x="773" y="73" width="2" height="480"/>
<rect x="86" y="73" width="689" height="2"/>
<rect x="86" y="147" width="689" height="2"/>
<rect x="86" y="220" width="689" height="2"/>
<rect x="86" y="294" width="689" height="2"/>
<rect x="86" y="367" width="689" height="2"/>
<rect x="86" y="441" width="689" height="2"/>
<rect x="86" y="551" width="689" height="2"/>
<rect x="83" y="167" width="3" height="1"/>
<rect x="83" y="191" width="3" height="1"/>
<rect x="83" y="216" width="3" height="1"/>
<rect x="83" y="239" width="3" height="1"/>
<rect x="83" y="265" width="3" height="1"/>
<rect x="83" y="292" width="3" height="1"/>
<rect x="83" y="300" width="3" height="1"/>
<rect x="83" y="310" width="3" height="1"/>
<rect x="83" y="320" width="3" height="1"/>
<rect x="83" y="331" width="3" height="1"/>
<rect x="83" y="341" width="3" height="1"/>
<rect x="83" y="351" width="3" height="1"/>
<rect x="83" y="361" width="3" height="1"/>
<rect x="83" y="382" width="3" height="1"/>
<rect x="83" y="397" width="3" height="1"/>
<rect x="83" y="412" width="3" height="1"/>
<rect x="83" y="427" width="3" height="1"/>
<rect x="83" y="455" width="3" height="1"/>
<rect x="83" y="487" width="3" height="1"/>
<rect x="83" y="520" width="3" height="1"/>
<rect x="83" y="552" width="3" height="1"/>
<rect x="113" y="70" width="1" height="3"/>
<rect x="113" y="553" width="1" height="3"/>
<rect x="182" y="70" width="1" height="3"/>
<rect x="182" y="553" width="1" height="3"/>
<rect x="252" y="70" width="1" height="3"/>
<rect x="252" y="553" width="1" height="3"/>
<rect x="322" y="70" width="1" height="3"/>
<rect x="322" y="553" width="1" height="3"/>
<rect x="391" y="70" width="1" height="3"/>
<rect x="391" y="553" width="1" height="3"/>
<rect x="461" y="70" width="1" height="3"/>
<rect x="461" y="553" width="1" height="3"/>
<rect x="530" y="70" width="1" height="3"/>
<rect x="530" y="553" width="1" height="3"/>
<rect x="600" y="70" width="1" height="3"/>
<rect x="600" y="553" width="1" height="3"/>
<rect x="670" y="70" width="1" height="3"/>
<rect x="670" y="553" width="1" height="3"/>
<rect x="739" y="70" width="1" height="3"/>
<rect x="739" y="553" width="1" height="3"/>
</g>
<line x1="93.5" y1="552.5" x2="773" y2="552.5" stroke="#d0d0d0" stroke-width="1" stroke-dasharray="1.6 4.96" shape-rendering="crispEdges"/>
<text x="96.4" y="68.8" font-size="13" textLength="34.0" lengthAdjust="spacingAndGlyphs">28JUN</text>
<text x="96.4" y="567.6" font-size="13" textLength="34.0" lengthAdjust="spacingAndGlyphs">28JUN</text>
<text x="166.0" y="68.8" font-size="13" textLength="34.0" lengthAdjust="spacingAndGlyphs">29JUN</text>
<text x="166.0" y="567.6" font-size="13" textLength="34.0" lengthAdjust="spacingAndGlyphs">29JUN</text>
<text x="235.6" y="68.8" font-size="13" textLength="34.0" lengthAdjust="spacingAndGlyphs">30JUN</text>
<text x="235.6" y="567.6" font-size="13" textLength="34.0" lengthAdjust="spacingAndGlyphs">30JUN</text>
<text x="309.7" y="68.8" font-size="13" textLength="25.0" lengthAdjust="spacingAndGlyphs">1JUL</text>
<text x="309.7" y="567.6" font-size="13" textLength="25.0" lengthAdjust="spacingAndGlyphs">1JUL</text>
<text x="379.3" y="68.8" font-size="13" textLength="25.0" lengthAdjust="spacingAndGlyphs">2JUL</text>
<text x="379.3" y="567.6" font-size="13" textLength="25.0" lengthAdjust="spacingAndGlyphs">2JUL</text>
<text x="448.9" y="68.8" font-size="13" textLength="25.0" lengthAdjust="spacingAndGlyphs">3JUL</text>
<text x="448.9" y="567.6" font-size="13" textLength="25.0" lengthAdjust="spacingAndGlyphs">3JUL</text>
<text x="518.5" y="68.8" font-size="13" textLength="25.0" lengthAdjust="spacingAndGlyphs">4JUL</text>
<text x="518.5" y="567.6" font-size="13" textLength="25.0" lengthAdjust="spacingAndGlyphs">4JUL</text>
<text x="588.1" y="68.8" font-size="13" textLength="25.0" lengthAdjust="spacingAndGlyphs">5JUL</text>
<text x="588.1" y="567.6" font-size="13" textLength="25.0" lengthAdjust="spacingAndGlyphs">5JUL</text>
<text x="657.7" y="68.8" font-size="13" textLength="25.0" lengthAdjust="spacingAndGlyphs">6JUL</text>
<text x="657.7" y="567.6" font-size="13" textLength="25.0" lengthAdjust="spacingAndGlyphs">6JUL</text>
<text x="727.3" y="68.8" font-size="13" textLength="25.0" lengthAdjust="spacingAndGlyphs">7JUL</text>
<text x="727.3" y="567.6" font-size="13" textLength="25.0" lengthAdjust="spacingAndGlyphs">7JUL</text>
<text x="99.7" y="56.0" font-size="13" textLength="28.0" lengthAdjust="spacingAndGlyphs">2018</text>
<text x="99.7" y="581.2" font-size="13" textLength="28.0" lengthAdjust="spacingAndGlyphs">2018</text>
<text x="56.4" y="172.1" font-size="13" textLength="24.0" lengthAdjust="spacingAndGlyphs">1020</text>
<text x="56.4" y="196.2" font-size="13" textLength="24.0" lengthAdjust="spacingAndGlyphs">1015</text>
<text x="56.4" y="220.9" font-size="13" textLength="24.0" lengthAdjust="spacingAndGlyphs">1010</text>
<text x="69.7" y="244.0" font-size="13" textLength="10.5" lengthAdjust="spacingAndGlyphs">10</text>
<text x="75.2" y="270.0" font-size="13" textLength="5.0" lengthAdjust="spacingAndGlyphs">5</text>
<text x="75.2" y="297.0" font-size="13" textLength="5.0" lengthAdjust="spacingAndGlyphs">0</text>
<text x="69.1" y="305.0" font-size="13" textLength="11.3" lengthAdjust="spacingAndGlyphs">35</text>
<text x="69.1" y="315.2" font-size="13" textLength="11.3" lengthAdjust="spacingAndGlyphs">30</text>
<text x="69.1" y="325.2" font-size="13" textLength="11.3" lengthAdjust="spacingAndGlyphs">25</text>
<text x="69.1" y="335.9" font-size="13" textLength="11.3" lengthAdjust="spacingAndGlyphs">20</text>
<text x="69.1" y="346.0" font-size="13" textLength="11.3" lengthAdjust="spacingAndGlyphs">15</text>
<text x="69.1" y="356.2" font-size="13" textLength="11.3" lengthAdjust="spacingAndGlyphs">10</text>
<text x="75.4" y="366.2" font-size="13" textLength="5.0" lengthAdjust="spacingAndGlyphs">5</text>
<text x="69.1" y="387.0" font-size="13" textLength="11.3" lengthAdjust="spacingAndGlyphs">80</text>
<text x="69.1" y="402.0" font-size="13" textLength="11.3" lengthAdjust="spacingAndGlyphs">60</text>
<text x="69.1" y="417.0" font-size="13" textLength="11.3" lengthAdjust="spacingAndGlyphs">40</text>
<text x="69.1" y="432.0" font-size="13" textLength="11.3" lengthAdjust="spacingAndGlyphs">20</text>
<text x="69.7" y="460.0" font-size="13" textLength="10.0" lengthAdjust="spacingAndGlyphs">15</text>
<text x="69.7" y="492.0" font-size="13" textLength="10.0" lengthAdjust="spacingAndGlyphs">10</text>
<text x="74.7" y="525.0" font-size="13" textLength="5.0" lengthAdjust="spacingAndGlyphs">5</text>
<text x="74.7" y="556.6" font-size="13" textLength="5.0" lengthAdjust="spacingAndGlyphs">0</text>
<rect x="29" y="84" width="17" height="53" fill="#00a0ff" shape-rendering="crispEdges"/>
<text x="43.5" y="136.6" font-size="13" textLength="29.5" lengthAdjust="spacingAndGlyphs" fill="#fff" style="fill:#fff" transform="rotate(-90 43.5 136.6)">Wolken</text>
<text x="43.5" y="100.1" font-size="13" textLength="14.0" lengthAdjust="spacingAndGlyphs" fill="#fff" style="fill:#fff" transform="rotate(-90 43.5 100.1)">(%)</text>
<text x="59.0" y="133.4" font-size="11" textLength="44.0" lengthAdjust="spacingAndGlyphs" transform="rotate(-90 59.0 133.4)">L e v e l</text>
<text x="61.8" y="90.8" font-size="13" textLength="21.4" lengthAdjust="spacingAndGlyphs">Hoch</text>
<text x="61.8" y="115.2" font-size="13" textLength="22.7" lengthAdjust="spacingAndGlyphs">Mittel</text>
<text x="65.3" y="139.8" font-size="13" textLength="16.0" lengthAdjust="spacingAndGlyphs">Tief</text>
<text x="27.0" y="211.0" font-size="13" textLength="53.0" lengthAdjust="spacingAndGlyphs" transform="rotate(-90 27.0 211.0)">Bodendruck</text>
<text x="51.5" y="196.9" font-size="13" textLength="24.4" lengthAdjust="spacingAndGlyphs" transform="rotate(-90 51.5 196.9)">(hPa)</text>
<text x="27.0" y="290.5" font-size="13" textLength="20.0" lengthAdjust="spacingAndGlyphs" fill="#00c000" style="fill:#00c000" transform="rotate(-90 27.0 290.5)">Wind</text>
<text x="27.0" y="264.2" font-size="13" textLength="37.5" lengthAdjust="spacingAndGlyphs" fill="#00c000" style="fill:#00c000" transform="rotate(-90 27.0 264.2)">Geschwi.</text>
<text x="41.0" y="283.4" font-size="13" textLength="50.6" lengthAdjust="spacingAndGlyphs" transform="rotate(-90 41.0 283.4)">Windfahnen</text>
<text x="59.0" y="266.4" font-size="13" textLength="16.0" lengthAdjust="spacingAndGlyphs" transform="rotate(-90 59.0 266.4)">(kt)</text>
<text x="27.0" y="366.8" font-size="13" textLength="29.7" lengthAdjust="spacingAndGlyphs" fill="#1e3cff" style="fill:#1e3cff" transform="rotate(-90 27.0 366.8)" font-weight="bold">T&#8211;Min,</text>
<text x="27.0" y="331.0" font-size="13" textLength="16.0" lengthAdjust="spacingAndGlyphs" fill="#fa3c3c" style="fill:#fa3c3c" transform="rotate(-90 27.0 331.0)" font-weight="bold">Max</text>
<text x="41.0" y="357.2" font-size="13" textLength="41.0" lengthAdjust="spacingAndGlyphs" transform="rotate(-90 41.0 357.2)">Taupunkt</text>
<text x="59.0" y="338.0" font-size="13" textLength="13.4" lengthAdjust="spacingAndGlyphs" transform="rotate(-90 59.0 338.0)">(C)</text>
<text x="27.0" y="430.8" font-size="13" textLength="12.8" lengthAdjust="spacingAndGlyphs" fill="#00c000" style="fill:#00c000" transform="rotate(-90 27.0 430.8)">2m</text>
<text x="27.0" y="411.0" font-size="13" textLength="10.5" lengthAdjust="spacingAndGlyphs" fill="#00c000" style="fill:#00c000" transform="rotate(-90 27.0 411.0)">RF</text>
<text x="27.0" y="393.7" font-size="13" textLength="14.1" lengthAdjust="spacingAndGlyphs" fill="#00c000" style="fill:#00c000" transform="rotate(-90 27.0 393.7)">(%)</text>
<text x="26.5" y="526.2" font-size="13" textLength="57.0" lengthAdjust="spacingAndGlyphs" transform="rotate(-90 26.5 526.2)">Niederschlag</text>
<text x="47.5" y="510.3" font-size="13" textLength="26.0" lengthAdjust="spacingAndGlyphs" transform="rotate(-90 47.5 510.3)">(mm)</text>
<text x="74.0" y="599.8" font-size="15.4" textLength="102.4" lengthAdjust="spacingAndGlyphs">Sonnenaufgang</text>
<text x="186.0" y="599.8" font-size="15.4" textLength="36.0" lengthAdjust="spacingAndGlyphs">heute</text>
<text x="231.6" y="599.8" font-size="15.4" textLength="37.4" lengthAdjust="spacingAndGlyphs">03:25</text>
<text x="279.0" y="599.8" font-size="15.4" textLength="24.0" lengthAdjust="spacingAndGlyphs">UTC</text>
<text x="74.0" y="618.3" font-size="15.4" textLength="116.4" lengthAdjust="spacingAndGlyphs">Sonnenuntergang</text>
<text x="200.0" y="618.3" font-size="15.4" textLength="35.6" lengthAdjust="spacingAndGlyphs">heute</text>
<text x="247.0" y="618.3" font-size="15.4" textLength="36.0" lengthAdjust="spacingAndGlyphs">19:36</text>
<text x="293.0" y="618.3" font-size="15.4" textLength="24.0" lengthAdjust="spacingAndGlyphs">UTC</text>
<text x="582.5" y="622.0" font-size="14" textLength="148.0" lengthAdjust="spacingAndGlyphs">www.wetterzentrale.de</text>
</g>
</svg></body></html>
